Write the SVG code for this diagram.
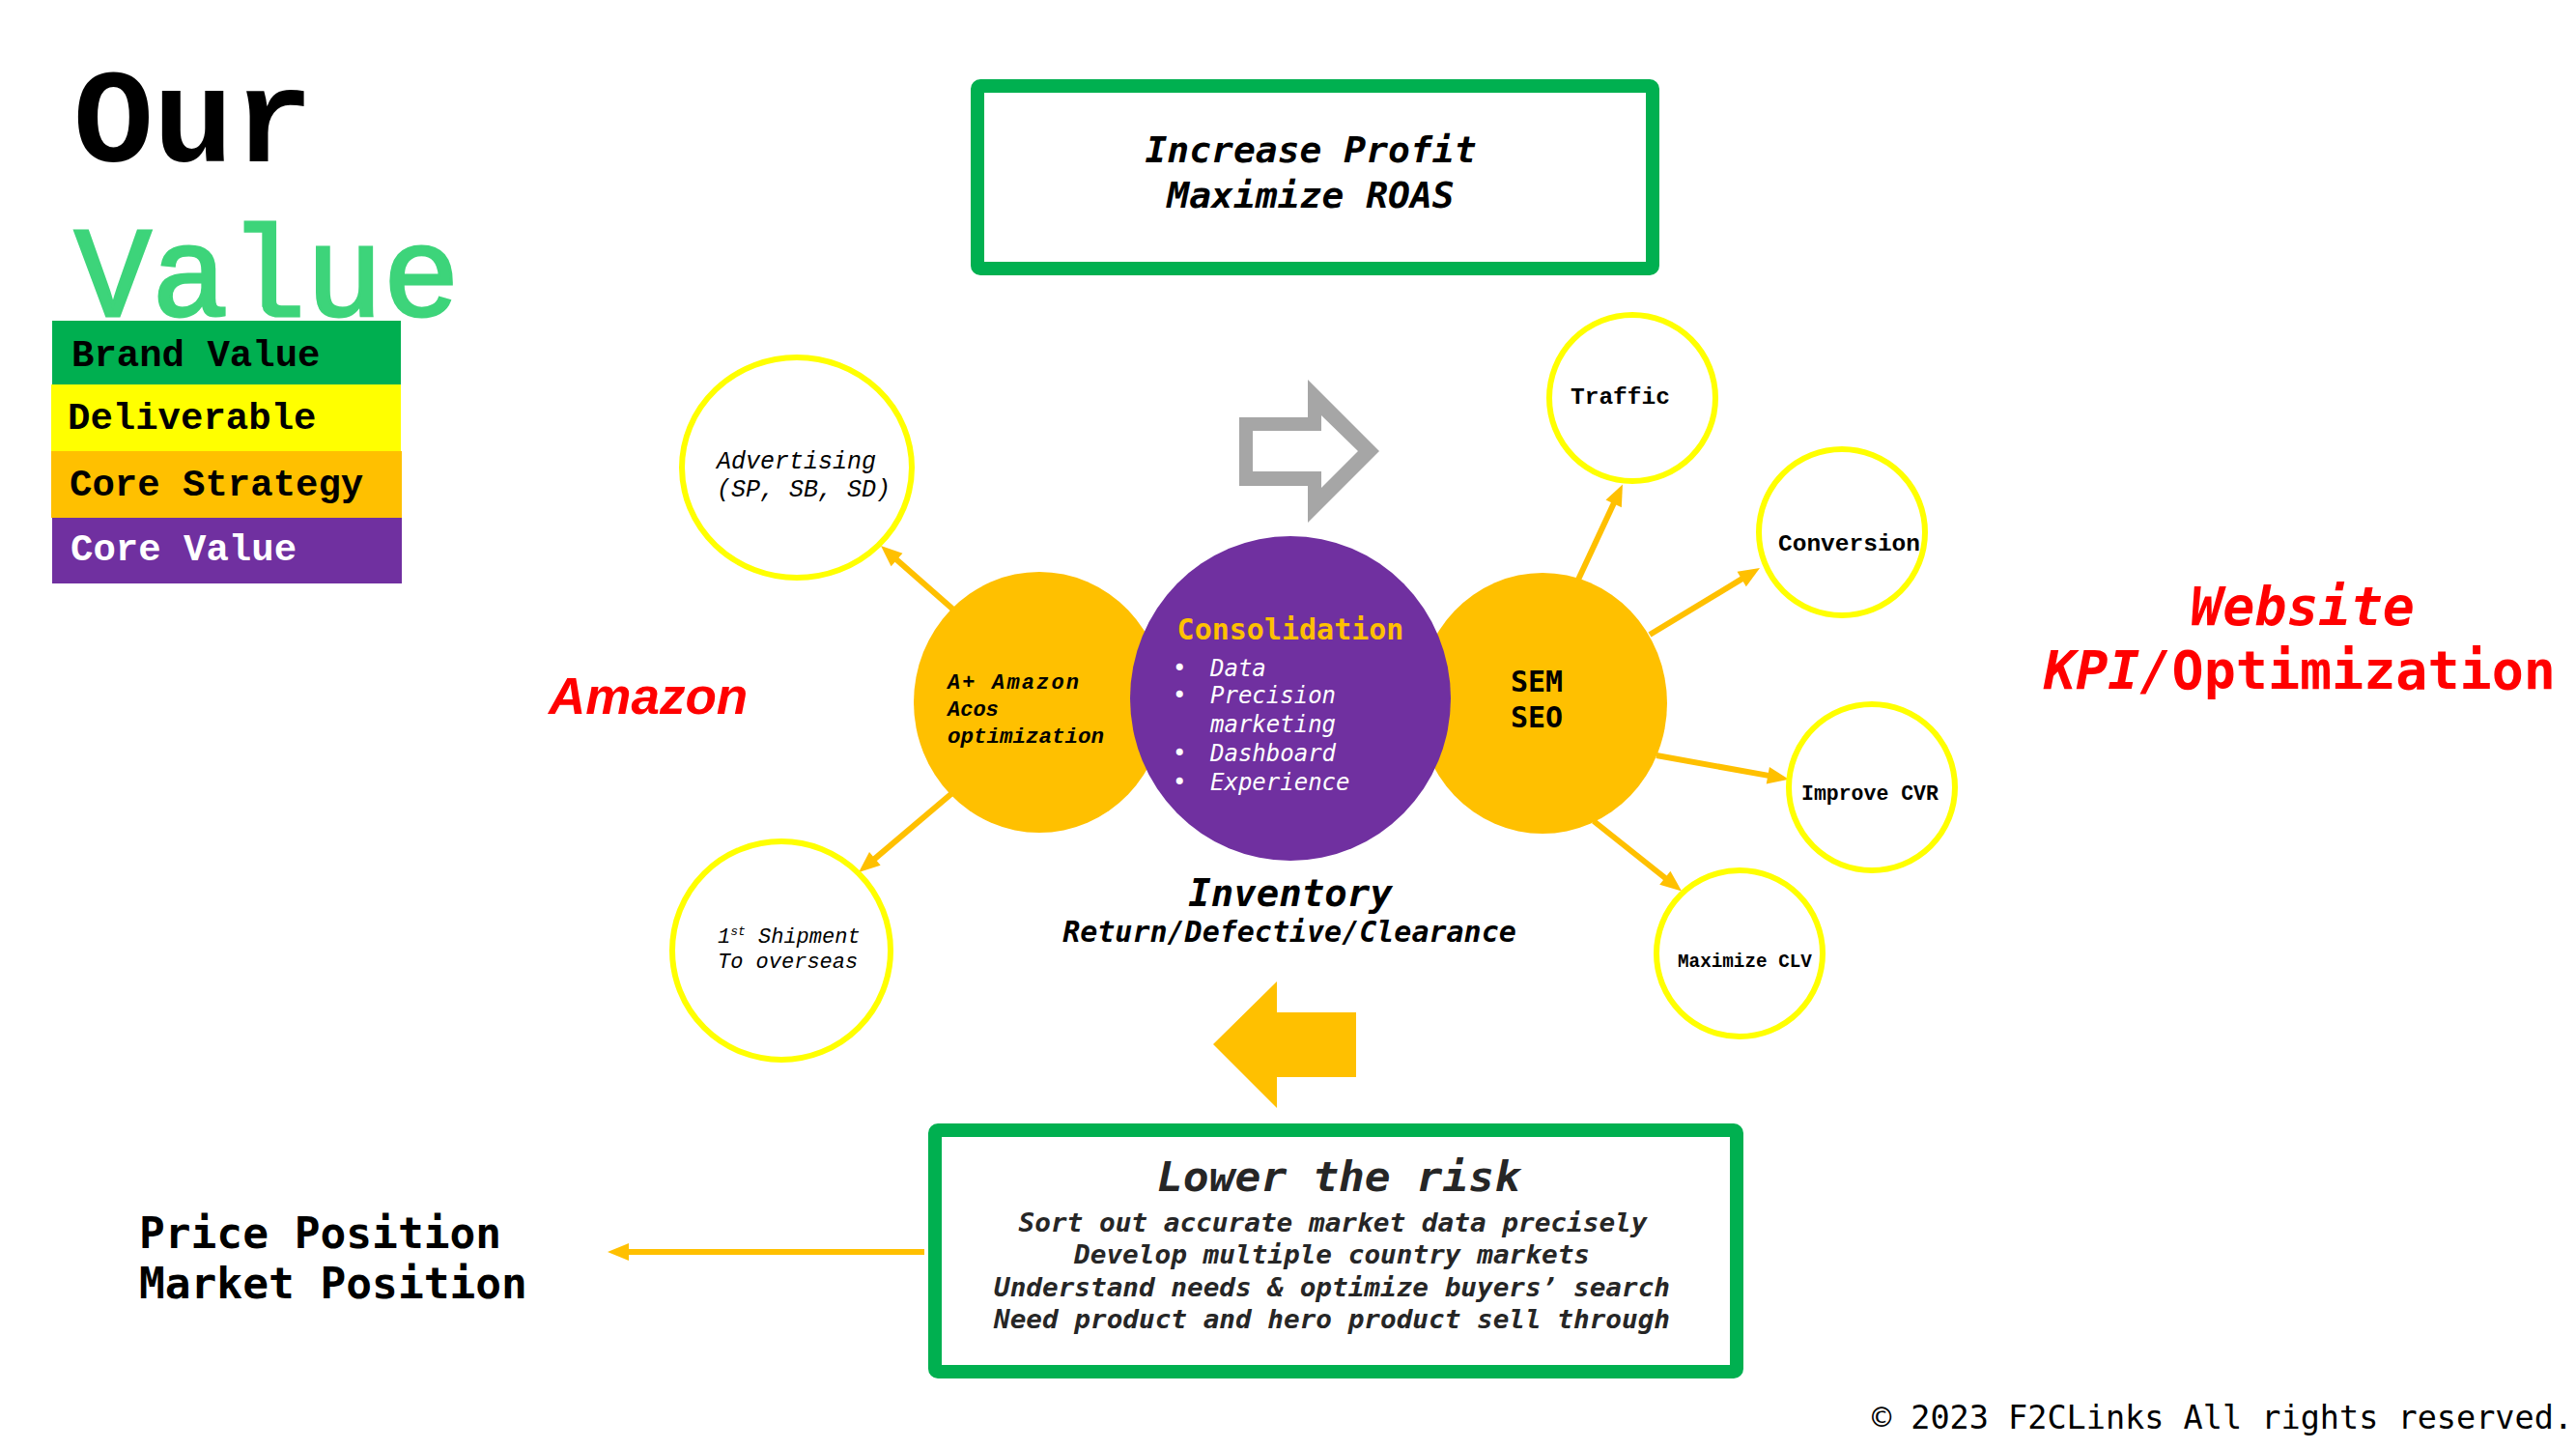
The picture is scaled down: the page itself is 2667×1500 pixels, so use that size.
<svg xmlns="http://www.w3.org/2000/svg" width="2667" height="1500" viewBox="0 0 2667 1500">
<style>
.cm{font-family:"Liberation Mono","Courier New",monospace}
.cs{font-family:"DejaVu Sans Mono",Consolas,monospace}
.b{font-weight:bold}
.i{font-style:italic}
.ring{fill:#fff;stroke:#FFFF00;stroke-width:6}
.gold{fill:#FFC000}
.conn{stroke:#FFC000;stroke-width:6;fill:none;marker-end:url(#ah)}
.box{fill:#fff;stroke:#00B050;stroke-width:14}
</style>
<defs>
<marker id="ah" markerUnits="userSpaceOnUse" markerWidth="24" markerHeight="20" viewBox="0 -10 24 20" refX="0" refY="0" orient="auto" overflow="visible">
<path d="M-2,-9 L20,0 L-2,9 z" fill="#FFC000"/>
</marker>
</defs>
<rect width="2667" height="1500" fill="#fff"/>

<g id="title">
<text class="cm b" x="76" y="167" font-size="138" fill="#000">Our</text>
<text class="cm" x="77" y="327" font-size="133" fill="#3DD47A" stroke="#3DD47A" stroke-width="3">Value</text>
</g>

<g id="legend">
<rect x="54" y="332" width="361" height="66" fill="#00AF50"/>
<text class="cm b" x="74" y="379" font-size="39" fill="#000">Brand Value</text>
<rect x="53" y="398" width="362" height="69" fill="#FFFF00"/>
<text class="cm b" x="70" y="444" font-size="39" fill="#000">Deliverable</text>
<rect x="53" y="467" width="363" height="69" fill="#FFC000"/>
<text class="cm b" x="72" y="513" font-size="39" fill="#000">Core Strategy</text>
<rect x="54" y="536" width="362" height="68" fill="#7030A0"/>
<text class="cm b" x="73" y="580" font-size="39" fill="#fff">Core Value</text>
</g>

<g id="goal-box">
<rect class="box" x="1012" y="89" width="699" height="189" rx="3"/>
<text class="cs b i" x="1357" y="168" font-size="38" text-anchor="middle" fill="#000">Increase Profit</text>
<text class="cs b i" x="1357" y="215" font-size="38" text-anchor="middle" fill="#000">Maximize ROAS</text>
</g>

<g id="gray-arrow">
<path fill="#A6A6A6" fill-rule="evenodd" d="M1283,432 L1354,432 L1354,393 L1428,467 L1354,541 L1354,503 L1283,503 Z M1297,446 L1368,446 L1368,430 L1406,467 L1368,505 L1368,488 L1297,488 Z"/>
</g>

<g id="amazon-label">
<text x="568" y="739" font-family="'Liberation Sans',Arial,sans-serif" font-weight="bold" font-style="italic" font-size="53" fill="#FF0000">Amazon</text>
</g>

<g id="website-label">
<text class="cs b i" x="2384" y="647" font-size="55" text-anchor="middle" fill="#FF0000">Website</text>
<text class="cs b" x="2381" y="713" font-size="55" text-anchor="middle" fill="#FF0000"><tspan font-style="italic">KPI/</tspan>Optimization</text>
</g>

<g id="connectors">
<line class="conn" x1="987" y1="631" x2="927" y2="578.2"/>
<line class="conn" x1="987" y1="820" x2="904.3" y2="890.1"/>
<line class="conn" x1="1634" y1="600" x2="1671.5" y2="519.6"/>
<line class="conn" x1="1708" y1="657" x2="1804.9" y2="598.4"/>
<line class="conn" x1="1715" y1="782" x2="1832.3" y2="803.1"/>
<line class="conn" x1="1650" y1="850" x2="1725.4" y2="910"/>
<line class="conn" x1="957" y1="1296" x2="649" y2="1296"/>
</g>

<g id="advertising">
<ellipse class="ring" cx="825" cy="484" rx="119" ry="114"/>
<text class="cm i" x="742" y="485" font-size="25" fill="#000">Advertising</text>
<text class="cm i" x="742" y="514" font-size="25" fill="#000">(SP, SB, SD)</text>
</g>

<g id="shipment">
<ellipse class="ring" cx="809" cy="984" rx="113" ry="113"/>
<text class="cm i" x="743" y="976" font-size="22" fill="#000">1<tspan font-size="13" dy="-8">st</tspan><tspan dy="8"> Shipment</tspan></text>
<text class="cm i" x="743" y="1002" font-size="22" fill="#000">To overseas</text>
</g>

<g id="amazon-node">
<ellipse class="gold" cx="1076" cy="727" rx="130" ry="135"/>
<text class="cm b i" x="981" y="713" font-size="22" fill="#000" textLength="136" lengthAdjust="spacing">A+ Amazon</text>
<text class="cm b i" x="981" y="741" font-size="22" fill="#000">Acos</text>
<text class="cm b i" x="981" y="769" font-size="22.5" fill="#000">optimization</text>
</g>

<g id="sem-node">
<ellipse class="gold" cx="1597" cy="728" rx="129" ry="135"/>
<text class="cs b" x="1564" y="716" font-size="30" fill="#000">SEM</text>
<text class="cs b" x="1564" y="753" font-size="30" fill="#000">SEO</text>
</g>

<g id="consolidation">
<ellipse cx="1336" cy="723" rx="166" ry="168" fill="#7030A0"/>
<text class="cs b" x="1336" y="662" font-size="30" text-anchor="middle" fill="#FFC000">Consolidation</text>
<g class="cs" font-size="24" fill="#fff">
<text x="1214" y="700">•</text>
<text x="1214" y="728">•</text>
<text x="1214" y="788">•</text>
<text x="1214" y="818">•</text>
<text class="i" x="1253" y="700">Data</text>
<text class="i" x="1253" y="728">Precision</text>
<text class="i" x="1253" y="758">marketing</text>
<text class="i" x="1253" y="788">Dashboard</text>
<text class="i" x="1253" y="818">Experience</text>
</g>
</g>

<g id="inventory">
<text class="cs b i" x="1336" y="938" font-size="39" text-anchor="middle" fill="#000">Inventory</text>
<text class="cs b i" x="1335" y="975" font-size="30" text-anchor="middle" fill="#000">Return/Defective/Clearance</text>
</g>

<g id="traffic">
<circle class="ring" cx="1690" cy="412" r="86"/>
<text class="cm b" x="1626" y="418" font-size="24.5" fill="#000">Traffic</text>
</g>
<g id="conversion">
<circle class="ring" cx="1907" cy="551" r="86"/>
<text class="cm b" x="1841" y="570" font-size="24.5" fill="#000">Conversion</text>
</g>
<g id="improve-cvr">
<circle class="ring" cx="1938" cy="815" r="86"/>
<text class="cm b" x="1865" y="828" font-size="21.5" fill="#000">Improve CVR</text>
</g>
<g id="maximize-clv">
<circle class="ring" cx="1801" cy="987" r="86"/>
<text class="cm b" x="1737" y="1001" font-size="19.3" fill="#000">Maximize CLV</text>
</g>

<g id="yellow-arrow">
<polygon fill="#FFC000" points="1256,1081 1322,1016 1322,1048 1404,1048 1404,1115 1322,1115 1322,1147"/>
</g>

<g id="risk-box">
<rect class="box" x="968" y="1170" width="830" height="250" rx="3"/>
<g class="cs b i" fill="#262626" text-anchor="middle">
<text x="1386" y="1233" font-size="42" textLength="376" lengthAdjust="spacingAndGlyphs">Lower the risk</text>
<text x="1380" y="1275" font-size="27" textLength="651" lengthAdjust="spacingAndGlyphs">Sort out accurate market data precisely</text>
<text x="1379" y="1308" font-size="27" textLength="534" lengthAdjust="spacingAndGlyphs">Develop multiple country markets</text>
<text x="1379" y="1342" font-size="27" textLength="700" lengthAdjust="spacingAndGlyphs">Understand needs &amp; optimize buyers’ search</text>
<text x="1379" y="1375" font-size="27" textLength="700" lengthAdjust="spacingAndGlyphs">Need product and hero product sell through</text>
</g>
</g>

<g id="position">
<text class="cs b" x="144" y="1292" font-size="44.5" fill="#000">Price Position</text>
<text class="cs b" x="144" y="1344" font-size="44.5" fill="#000">Market Position</text>
</g>

<g id="copyright">
<text class="cs" x="2664" y="1479" font-size="33.5" text-anchor="end" fill="#000">© 2023 F2CLinks All rights reserved.</text>
</g>
</svg>
